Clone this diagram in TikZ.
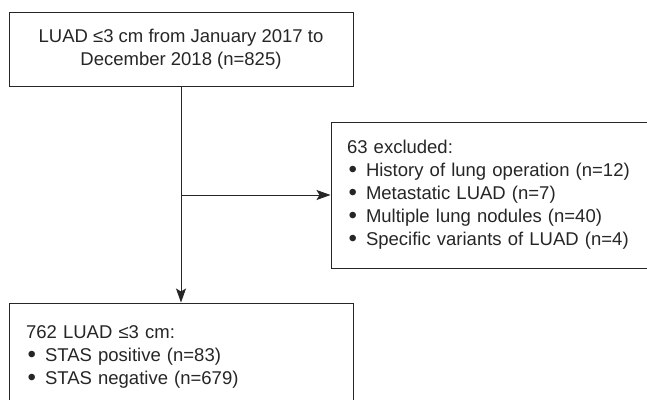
\documentclass[tikz,border=0pt]{standalone}
\usepackage{fontspec}
\setmainfont{Liberation Sans}
\usetikzlibrary{arrows.meta}
\newcommand\bitem[1]{\makebox[19pt][l]{\hspace{1.5pt}\raisebox{-0.6pt}{\scalebox{1.3}{•}}}#1}
\begin{document}
\begin{tikzpicture}[x=1pt,y=-1pt,
  box/.style={draw=black!85, line width=1pt, inner sep=0pt, text=black!85, font=\fontsize{18.5}{23}\selectfont},
  arr/.style={draw=black!85, line width=1pt, -{Stealth[length=14pt,width=10pt,inset=3pt]}}]
\useasboundingbox[clip] (0,0) rectangle (647,399);
\fill[white] (0,0) rectangle (647,399);
\node[box, minimum width=344pt, minimum height=74pt, align=center] (top) at (181,49)
  {LUAD ≤3 cm from January 2017 to\\December 2018 (n=825)};
\node[box, minimum width=329pt, minimum height=146pt, text width=297pt, align=left] (excl) at (495.5,195)
  {63 excluded:\\
   \bitem{History of lung operation (n=12)}\\
   \bitem{Metastatic LUAD (n=7)}\\
   \bitem{Multiple lung nodules (n=40)}\\
   \bitem{Specific variants of LUAD (n=4)}};
\node[box, minimum width=344pt, minimum height=108pt, text width=310pt, align=left] (bot) at (181,357)
  {762 LUAD ≤3 cm:\\
   \bitem{STAS positive (n=83)}\\
   \bitem{STAS negative (n=679)}};
\draw[arr] (top) -- (bot);
\coordinate (j) at (top.south |- excl.west);
\draw[arr] (j) -- (excl.west);
\end{tikzpicture}
\end{document}
